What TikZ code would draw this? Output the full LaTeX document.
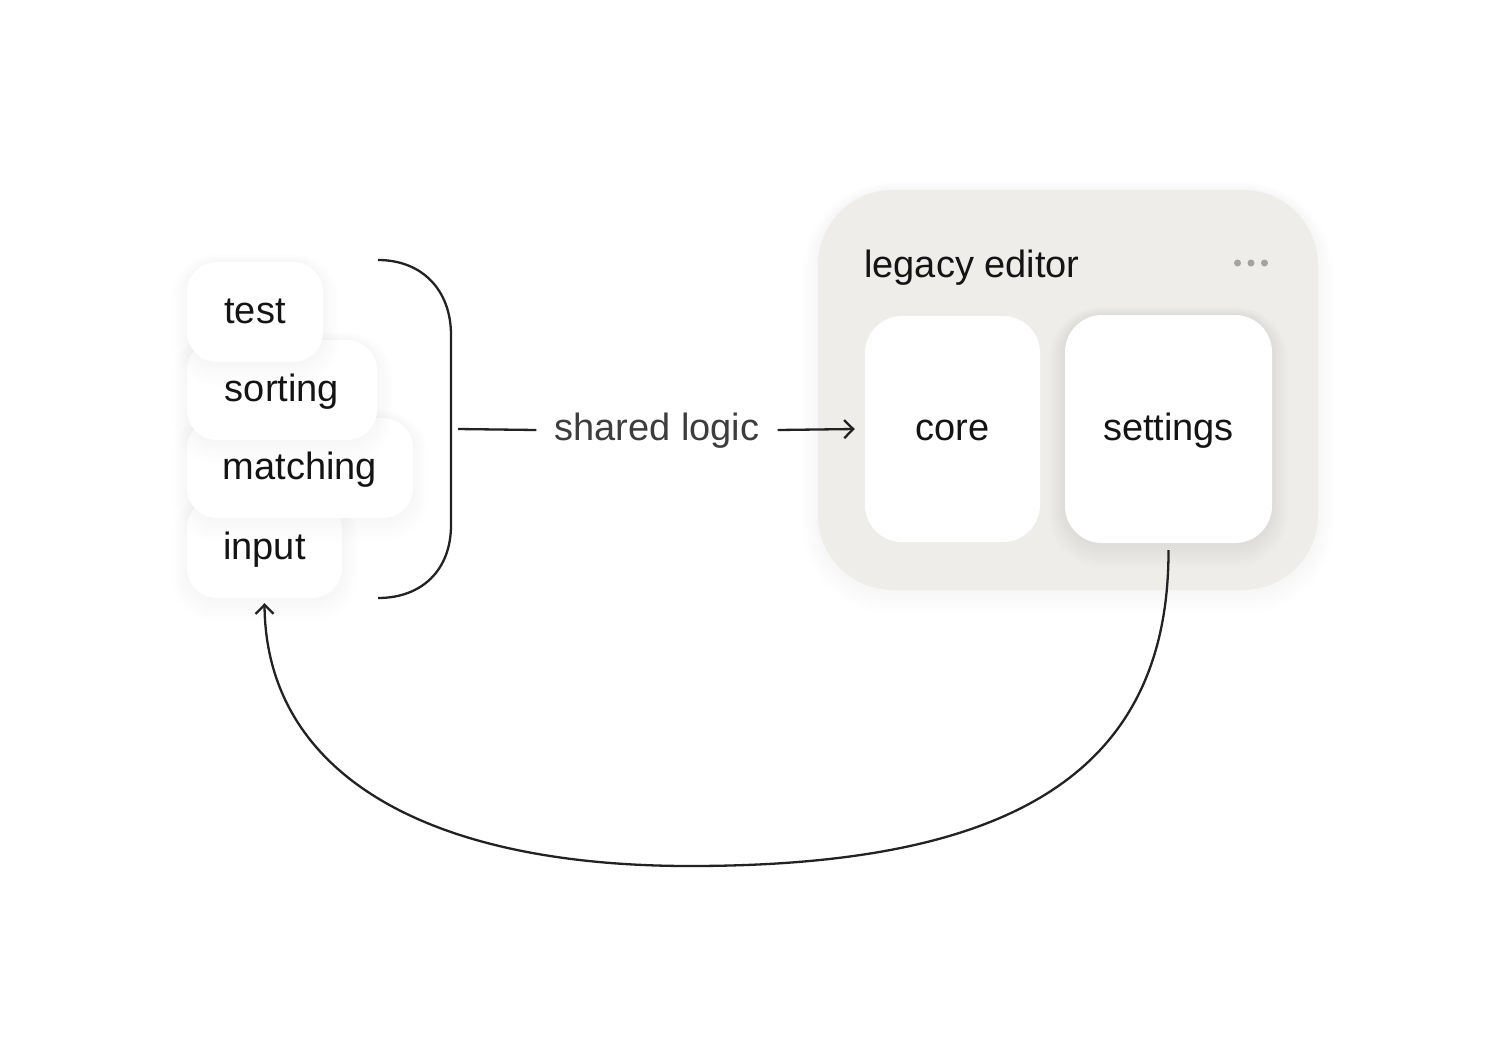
\documentclass[tikz,border=0pt]{standalone}
\usepackage{fontspec}
\setmainfont{Liberation Sans}
\usetikzlibrary{arrows.meta}
\definecolor{ink}{HTML}{141414}
\definecolor{mid}{HTML}{3D3D3D}
\definecolor{panel}{HTML}{EEEDEA}
\definecolor{dotc}{HTML}{A3A3A3}
\definecolor{linec}{HTML}{222222}
\newcommand\halo[6]{%
  \foreach \i in {1,...,8}{%
    \pgfmathsetmacro\e{\i*2}%
    \pgfmathsetmacro\rr{#5+\e}%
    \fill[black,opacity=#6,rounded corners=\rr pt] ({#1-\e},{#2-\e+\i}) rectangle ({#3+\e},{#4+\e+\i});
  }}
\begin{document}
\begin{tikzpicture}[x=1pt,y=-1pt,
  txt/.style={font=\fontsize{38}{46}\selectfont, text=ink},
  card/.style={txt, fill=white, rounded corners=30pt, inner sep=0pt, text height=28pt, text depth=6pt},
  bigcard/.style={card, rounded corners=37pt},
  panelbox/.style={fill=panel, rounded corners=75pt, inner sep=0pt, minimum width=500pt, minimum height=400pt},
  conn/.style={draw=linec, line width=2.3pt},
  tip/.style={-{Straight Barb[length=9pt,width=18pt]}},
  dot/.style={circle, fill=dotc, inner sep=0pt, minimum size=7pt}
]
\useasboundingbox[fill=white] (0,0) rectangle (1503,1050);

% left stack
\halo{187}{498}{342}{598}{30}{0.0025}
\node[card, minimum width=155pt, minimum height=100pt] (input) at (264.5,548) {input};
\halo{187}{418}{413}{518}{30}{0.0025}
\node[card, minimum width=226pt, minimum height=100pt] (matching) at (300,468) {matching};
\halo{187}{340}{377}{440}{30}{0.0025}
\node[card, minimum width=190pt, minimum height=100pt] (sorting) at (282,390) {sorting};
\halo{187}{262}{323}{362}{30}{0.0025}
\node[card, minimum width=136pt, minimum height=100pt] (test) at (255,312) {test};

% bracket
\coordinate (btop) at (378,260);
\coordinate (bbot) at (378,598);
\draw[conn] (btop) .. controls (422,260) and (451,290) .. (451,335) -- (451,525) .. controls (451,570) and (422,598) .. (bbot);
\coordinate (bmid) at (458,429);

% container
\halo{818}{190}{1318}{590}{75}{0.003}
\node[panelbox] (editor) at (1068,390) {};
\node[txt, anchor=base west, inner sep=0pt] (title) at (864,277) {legacy editor};
\node[dot] (d1) at (1237.5,263) {};
\node[dot] (d2) at (1251,263) {};
\node[dot] (d3) at (1264.5,263) {};

\node[bigcard, minimum width=175pt, minimum height=226pt] (core) at (952.5,429) {core};
\halo{1065}{315}{1272}{543}{37}{0.006}
\node[bigcard, minimum width=207pt, minimum height=228pt] (settings) at (1168.5,429) {settings};

% shared logic
\node[txt, text=mid, inner xsep=18pt, inner ysep=0pt, text height=28pt, text depth=8pt, anchor=base] (sl) at (657,440) {shared logic};
\draw[conn] (bmid) -- (sl.west);
\draw[conn, tip] (sl.east) -- ([xshift=-10pt]core.west);

% return curve
\draw[conn, tip] ([yshift=-7pt]settings.south) .. controls (1169,780) and (1000,866) .. (690,866)
  .. controls (420,866) and (266,770) .. ([yshift=-5pt]input.south);
\end{tikzpicture}
\end{document}
